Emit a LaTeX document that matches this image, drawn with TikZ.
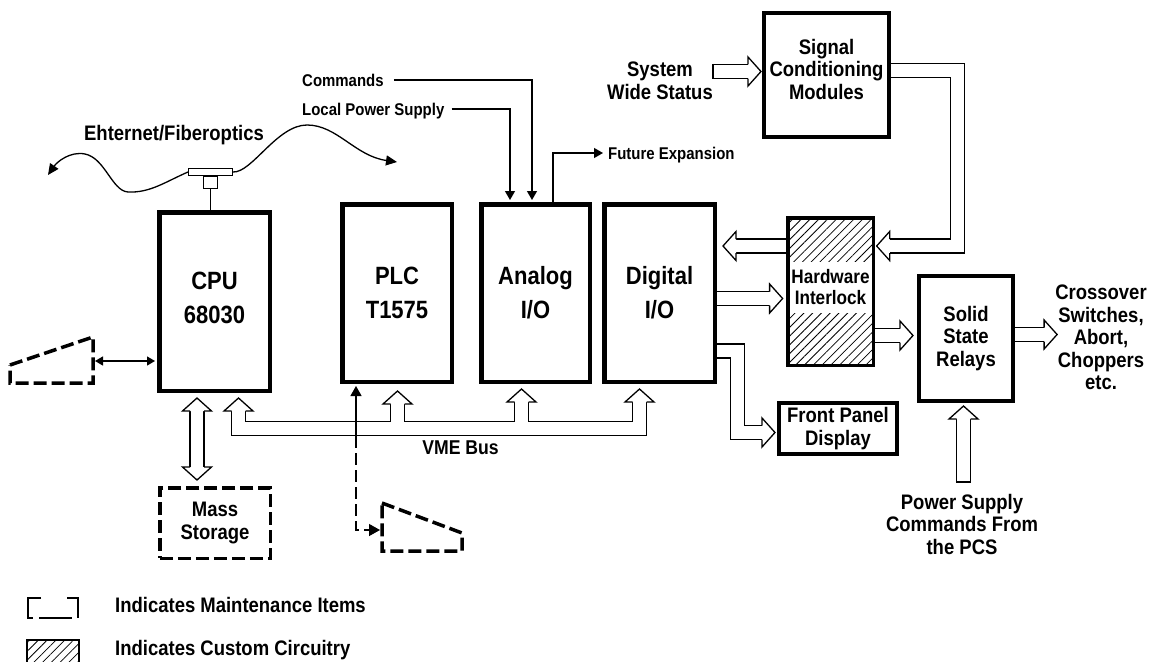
\documentclass[tikz,border=0pt]{standalone}
\usepackage{fontspec}
\setmainfont{Liberation Sans}[FakeStretch=0.88]
\usetikzlibrary{arrows.meta,calc,positioning,backgrounds,patterns.meta}
\tikzset{
  wire/.style      = {line width=1.3pt},
  dashwire/.style  = {line width=1.3pt, dash pattern=on 12pt off 5pt},
  dbl/.style       = {line width=1.3pt, double distance=12.7pt},
  block/.style     = {draw, line width=4.5pt, inner sep=0pt, align=center, boxtext},
  dashbox/.style   = {draw, line width=3.5pt, dash pattern=on 13pt off 5pt},
  boxtext/.style   = {font=\fontsize{25}{34}\selectfont\bfseries},
  midtext/.style   = {font=\fontsize{21}{22.5}\selectfont\bfseries, align=center, inner sep=0pt},
  smalltext/.style = {font=\fontsize{17}{19}\selectfont\bfseries, inner sep=0pt, text depth=0pt},
  hatch/.style     = {pattern={Lines[angle=45,distance=6.2pt,line width=0.8pt]}},
  fwd/.style       = {-{Triangle[length=9pt,width=10pt]}},
  bhead/.pic       = {\filldraw[fill=white, line width=1.3pt]
                      (-13,7) -- (-13,14.5) -- (0,0) -- (-13,-14.5) -- (-13,-7);},
}
\begin{document}
\begin{tikzpicture}[x=1pt, y=-1pt]
  \useasboundingbox (0,0) rectangle (1153,661);

  % boards in the crate
  \node[block, text depth=8pt, minimum width=110.5pt, minimum height=178.5pt] (cpu) at (214.5,301.5) {CPU\\68030};
  \node[block, minimum width=109.5pt, minimum height=177.5pt] (plc) at (397,293) {PLC\\T1575};
  \node[block, minimum width=108.5pt, minimum height=177.5pt] (aio) at (535.5,293) {Analog\\I/O};
  \node[block, minimum width=110.5pt, minimum height=177.5pt] (dio) at (659.5,293) {Digital\\I/O};

  % outside the crate
  \node[block, midtext, text depth=12pt, line width=4pt, minimum width=125pt, minimum height=124pt] (scm) at (826.5,75) {Signal\\Conditioning\\Modules};
  \node[draw, line width=3.5pt, hatch, minimum width=85.5pt, minimum height=147.5pt] (hwi) at (830.5,291.5) {};
  \node[fill=white, midtext, font=\fontsize{19.5}{21}\selectfont\bfseries,
        minimum width=82pt, minimum height=51pt] (hwitxt) at ($(hwi.center)+(0,-4)$) {Hardware\\Interlock};
  \node[block, midtext, line width=4pt, minimum width=94pt, minimum height=125pt] (ssr) at (966,338.5) {Solid\\State\\Relays};
  \node[block, midtext, line width=4pt, minimum width=118pt, minimum height=51pt] (fpd) at (838,428.5) {Front Panel\\Display};
  \node[dashbox, midtext, minimum width=110.5pt, minimum height=70.5pt] (mass) at (215,523) {Mass\\Storage};

  % labels
  \node[midtext] (sws) at (660,81) {System\\Wide Status};
  \node[midtext] (cross) at (1101,337.5) {Crossover\\Switches,\\Abort,\\Choppers\\etc.};
  \node[midtext, anchor=north] (psc) at (962,494) {Power Supply\\Commands From\\the PCS};
  \node[midtext, font=\fontsize{20}{22}\selectfont\bfseries] (vme) at (460.5,448) {VME Bus};
  \node[midtext] (eth) at (174,135) {Ehternet/Fiberoptics};
  \node[smalltext, anchor=west] (cmd) at (302,80) {Commands};
  \node[smalltext, anchor=west] (lps) at (302,109) {Local Power Supply};
  \node[smalltext, anchor=west, inner xsep=5pt] (fut) at (603,153) {Future Expansion};

  % analog I/O lines
  \draw[wire, fwd] ([xshift=10pt]cmd.east) -| ($(aio.north)+(-3.5,-2)$);
  \draw[wire, fwd] ([xshift=7pt]lps.east) -| ($(aio.north)+(-25.5,-2)$);
  \draw[wire, fwd] ($(aio.north)+(17.5,0)$) |- (fut.west);

  % network tap
  \node[draw, line width=1.3pt, inner sep=0pt, minimum width=43.7pt, minimum height=6.7pt] (tap) at (210.5,172) {};
  \node[draw, line width=1.3pt, inner sep=0pt, minimum width=13.7pt, minimum height=11.7pt, below=0pt of tap] (plug) {};
  \draw[wire] (plug.south) -- (plug.south |- cpu.north);
  \coordinate (netl) at (48,175);
  \coordinate (netr) at (397,162);
  \draw[wire, -{Triangle[length=11pt,width=10pt]}] (tap.west) .. controls (165,182) and (150,193) .. (128,192)
        .. controls (112,191) and (105,158) .. (85,154) .. controls (70,151) and (57,162) .. (netl);
  \draw[wire, -{Triangle[length=11pt,width=10pt]}] (tap.east) .. controls (252,173) and (277,125) .. (307,125)
        .. controls (337,125) and (355,156) .. (netr);

  % terminals
  \draw[dashbox] (10,365) -- (93,337) -- (93,383) -- (10,383) -- cycle;
  \coordinate (trm1) at (95,361);
  \draw[wire, {Triangle[length=8pt,width=9pt]}-{Triangle[length=8pt,width=9pt]}] (trm1) -- ($(trm1 -| cpu.west)+(-2,0)$);
  \draw[dashbox] (382,503) -- (462,533) -- (462,551) -- (382,551) -- cycle;
  \coordinate (trm2) at (380,530);
  \coordinate (pj) at ($(plc.south)+(-41,2)$);
  \draw[wire, -{Triangle[length=10pt,width=11pt]}] ($(pj)+(0,50)$) -- (pj);
  \draw[dashwire, -{Triangle[length=11pt,width=12pt]}] ($(pj)+(0,50)$) |- (trm2);

  \begin{scope}[on background layer]
    % VME bus
    \coordinate (bcpu) at ($(cpu.south)+(24,5)$);
    \coordinate (bplc) at ($(plc.south)+(0.5,7)$);
    \coordinate (baio) at ($(aio.south)+(-14,5)$);
    \coordinate (bdio) at ($(dio.south)+(-20,5)$);
    \coordinate (bus) at ($(bcpu)+(0,30.5)$);
    \draw[dbl] ($(bcpu)+(0,13)$) -- (bus) -- (bus -| bdio) -- ($(bdio)+(0,13)$)
               ($(bplc)+(0,13)$) -- (bplc |- bus)
               ($(baio)+(0,13)$) -- (baio |- bus);
    \foreach \p in {bcpu,bplc,baio,bdio} \pic[rotate=90] at (\p) {bhead};

    % mass storage
    \coordinate (m9) at ($(cpu.south)+(-17.5,5)$);
    \draw[dbl] ($(m9)+(0,13)$) -- ($(m9 |- mass.north)+(0,-19)$);
    \pic[rotate=90] at (m9) {bhead};
    \pic[rotate=-90] at ($(m9 |- mass.north)+(0,-6)$) {bhead};

    % status into conditioning
    \coordinate (t1) at ($(sws.east)+(0,-9.5)$);
    \draw[dbl] (t1) -- ($(t1 -| scm.west)+(-14,0)$);
    \draw[wire] ($(t1)+(0,-7.6)$) -- ($(t1)+(0,7.6)$);
    \pic at ($(t1 -| scm.west)+(-1,0)$) {bhead};

    % conditioning to interlock
    \draw[dbl, shorten >=13pt] ($(scm.east)+(0,-4.5)$) -- ++(66.5,0) |- ($(hwi.east)+(3,-45.5)$);
    \pic[rotate=180] at ($(hwi.east)+(3,-45.5)$) {bhead};

    % interlock and digital I/O
    \coordinate (h3) at ($(hwi.west)+(0,-45.5)$);
    \draw[dbl] (h3) -- ($(h3 -| dio.east)+(19,0)$);
    \pic[rotate=180] at ($(h3 -| dio.east)+(6,0)$) {bhead};
    \coordinate (d4) at ($(dio.east)+(0,5.5)$);
    \draw[dbl] (d4) -- ($(d4 -| hwi.west)+(-17.75,0)$);
    \pic at ($(d4 -| hwi.west)+(-4.75,0)$) {bhead};

    % interlock to relays to switches
    \coordinate (h5) at ($(hwi.east)+(0,44)$);
    \draw[dbl] (h5) -- ($(h5 -| ssr.west)+(-17,0)$);
    \pic at ($(h5 -| ssr.west)+(-4,0)$) {bhead};
    \coordinate (r6) at ($(ssr.east)+(0,-4)$);
    \draw[dbl] (r6) -- ($(r6 -| cross.west)+(-11,0)$);
    \pic at ($(r6 -| cross.west)+(2,0)$) {bhead};

    % front panel
    \draw[dbl, shorten >=13pt] ($(dio.east)+(0,58)$) -- ++(20.75,0) |- ($(fpd.west)+(-2,4)$);
    \pic at ($(fpd.west)+(-2,4)$) {bhead};

    % PCS commands
    \coordinate (p8) at ($(psc.north)+(1.5,-12)$);
    \draw[dbl] (p8) -- ($(p8 |- ssr.south)+(0,16)$);
    \draw[wire] ($(p8)+(-7.6,0)$) -- ($(p8)+(7.6,0)$);
    \pic[rotate=90] at ($(p8 |- ssr.south)+(0,3)$) {bhead};
  \end{scope}

  % legend
  \draw[line width=2.5pt] (41,598) -- (28,598) -- (28,618) -- (33,618)
                          (39,618) -- (72,618)
                          (67,598) -- (78,598) -- (78,618);
  \draw[line width=1.5pt, hatch] (27,640) rectangle (79,663);
  \node[midtext, anchor=west, text depth=0pt] (leg1) at (115,605) {Indicates Maintenance Items};
  \node[midtext, anchor=west, text depth=0pt] (leg2) at (115,648) {Indicates Custom Circuitry};
\end{tikzpicture}
\end{document}
